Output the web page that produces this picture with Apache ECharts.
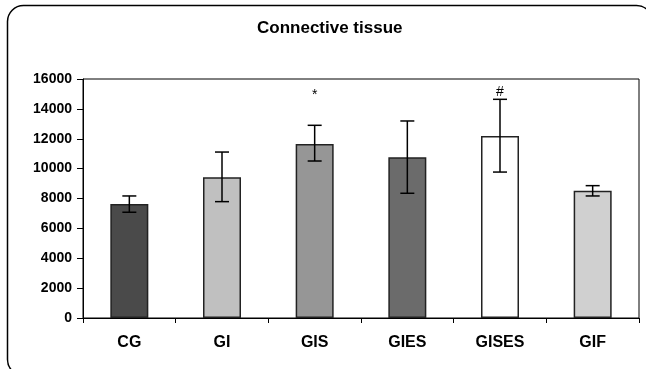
<!DOCTYPE html>
<html>
<head>
<meta charset="utf-8">
<script src="https://cdn.jsdelivr.net/npm/echarts@6/dist/echarts.min.js"></script>
<style>
  html, body { margin: 0; padding: 0; background: #fff; }
  #chart { width: 646px; height: 369px; }
</style>
</head>
<body>
<div id="chart"></div>
<script>
const categorias = ["CG", "GI", "GIS", "GIES", "GISES", "GIF"];
const medias = [7630, 9420, 11650, 10760, 12180, 8520];
const errorAlto = [8170, 11110, 12900, 13190, 14640, 8860];
const errorBajo = [7080, 7790, 10510, 8350, 9770, 8170];
const marcas = ["", "", "*", "", "#", ""];
const marcaValor = [0, 0, 14900, 0, 15150, 0];
const colores = ["#4a4a4a", "#c0c0c0", "#969696", "#6b6b6b", "#ffffff", "#d0d0d0"];
const ticksY = [0, 2000, 4000, 6000, 8000, 10000, 12000, 14000, 16000];

const fuente = "'Liberation Sans', Arial, sans-serif";

const chart = echarts.init(document.getElementById("chart"));

chart.setOption({
  animation: false,
  backgroundColor: "#fff",
  title: {
    text: "Connective tissue",
    left: 252,
    top: 15,
    textStyle: { fontFamily: fuente, fontSize: 17, fontWeight: "bold", color: "#000" },
  },
  graphic: [
    {
      type: "rect",
      shape: { x: 7.5, y: 5.5, width: 645, height: 370, r: 16 },
      style: { fill: null, stroke: "#000", lineWidth: 1.5 },
      z: 100,
    },
  ],
  grid: {
    left: 83,
    right: 7,
    top: 79,
    bottom: 51,
    show: true,
    borderColor: "#000",
    borderWidth: 1,
  },
  xAxis: {
    type: "category",
    data: categorias,
    axisLine: { lineStyle: { color: "#000", width: 1 } },
    axisTick: { show: true, length: 5, alignWithLabel: false, lineStyle: { color: "#000" } },
    axisLabel: {
      margin: 17,
      fontFamily: fuente,
      fontSize: 16,
      fontWeight: "bold",
      color: "#000",
    },
  },
  yAxis: {
    type: "value",
    min: ticksY[0],
    max: ticksY[ticksY.length - 1],
    interval: 2000,
    axisLine: { show: true, lineStyle: { color: "#000", width: 1 } },
    axisTick: { show: true, length: 6, lineStyle: { color: "#000" } },
    splitLine: { show: false },
    axisLabel: {
      margin: 11,
      fontFamily: fuente,
      fontSize: 14,
      fontWeight: "bold",
      color: "#000",
      formatter: (v) => String(v),
    },
  },
  series: [
    {
      type: "bar",
      barWidth: 38,
      data: medias.map((v, i) => ({
        value: v,
        itemStyle: { color: colores[i], borderColor: "#222", borderWidth: 1.5 },
      })),
    },
    {
      type: "custom",
      z: 10,
      data: categorias.map((c, i) => [i, errorBajo[i], errorAlto[i]]),
      renderItem: function (params, api) {
        const i = api.value(0);
        const bajo = api.coord([i, api.value(1)]);
        const alto = api.coord([i, api.value(2)]);
        const w = 7;
        const estilo = { stroke: "#000", lineWidth: 1.5 };
        const hijos = [
          { type: "line", shape: { x1: alto[0], y1: alto[1], x2: bajo[0], y2: bajo[1] }, style: estilo },
          { type: "line", shape: { x1: alto[0] - w, y1: alto[1], x2: alto[0] + w, y2: alto[1] }, style: estilo },
          { type: "line", shape: { x1: bajo[0] - w, y1: bajo[1], x2: bajo[0] + w, y2: bajo[1] }, style: estilo },
        ];
        if (marcas[i]) {
          const p = api.coord([i, marcaValor[i]]);
          hijos.push({
            type: "text",
            x: p[0],
            y: p[1],
            style: {
              text: marcas[i],
              fill: "#000",
              font: "14px " + fuente,
              align: "center",
              verticalAlign: "middle",
            },
          });
        }
        return { type: "group", children: hijos };
      },
    },
  ],
});
</script>
</body>
</html>
